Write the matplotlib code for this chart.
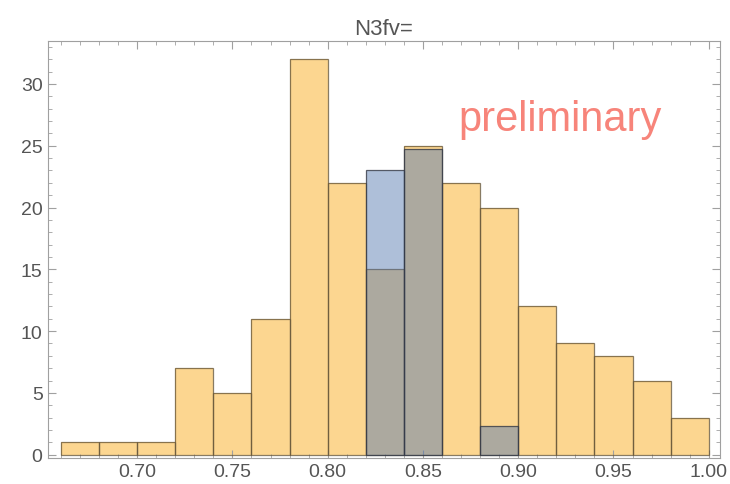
import numpy as np
import matplotlib.pyplot as plt
from matplotlib.ticker import MultipleLocator

plt.rcParams['font.family'] = ['Liberation Sans', 'DejaVu Sans']

# bin edges and counts
bin_edges = [0.66, 0.68, 0.70, 0.72, 0.74, 0.76, 0.78, 0.80, 0.82, 0.84,
             0.86, 0.88, 0.90, 0.92, 0.94, 0.96, 0.98, 1.00]
counts_all = [1, 1, 1, 7, 5, 11, 32, 22, 15, 25, 22, 20, 12, 9, 8, 6, 3]

blue_edges = [0.82, 0.84, 0.86, 0.88, 0.90]
counts_blue = [23, 24.7, 0, 2.3]

fig = plt.figure(figsize=(7.3, 4.85), dpi=100)
ax = fig.add_axes([0.066, 0.054, 0.920, 0.860])

ax.stairs(counts_all, bin_edges, fill=True, color='#fcd690', zorder=1)
for i in range(len(counts_all)):
    ax.bar(bin_edges[i], counts_all[i], width=bin_edges[i + 1] - bin_edges[i],
           align='edge', fill=False, edgecolor='#6b5a3c', linewidth=0.9, alpha=0.8, zorder=2)

for i in range(len(counts_blue)):
    if counts_blue[i] > 0:
        ax.bar(blue_edges[i], counts_blue[i], width=blue_edges[i + 1] - blue_edges[i],
               align='edge', color=(83/255, 119/255, 176/255, 0.47),
               edgecolor=(0.2, 0.22, 0.27, 0.8), linewidth=0.9, zorder=3)

ax.set_xlim(0.6533, 1.0058)
ax.set_ylim(-0.25, 33.5)
ax.xaxis.set_major_locator(MultipleLocator(0.05))
ax.xaxis.set_minor_locator(MultipleLocator(0.01))
ax.yaxis.set_major_locator(MultipleLocator(5))
ax.yaxis.set_minor_locator(MultipleLocator(1))
ax.xaxis.set_major_formatter(plt.FuncFormatter(lambda v, p: '%.2f' % v))

frame_col = '#a0a0a0'
for s in ax.spines.values():
    s.set_color(frame_col)
ax.tick_params(which='both', direction='in', top=True, right=True, color=frame_col,
               labelcolor='#555555', labelsize=14)
ax.tick_params(which='major', length=6, pad=4)
ax.tick_params(which='minor', length=3)

ax.set_title('N3fv=', color='#555555', fontsize=16, pad=5)
ax.text(0.8685, 27.2, 'preliminary', color='#f7847a', fontsize=30, va='center', ha='left')

fig.savefig('out.png', dpi=100)
